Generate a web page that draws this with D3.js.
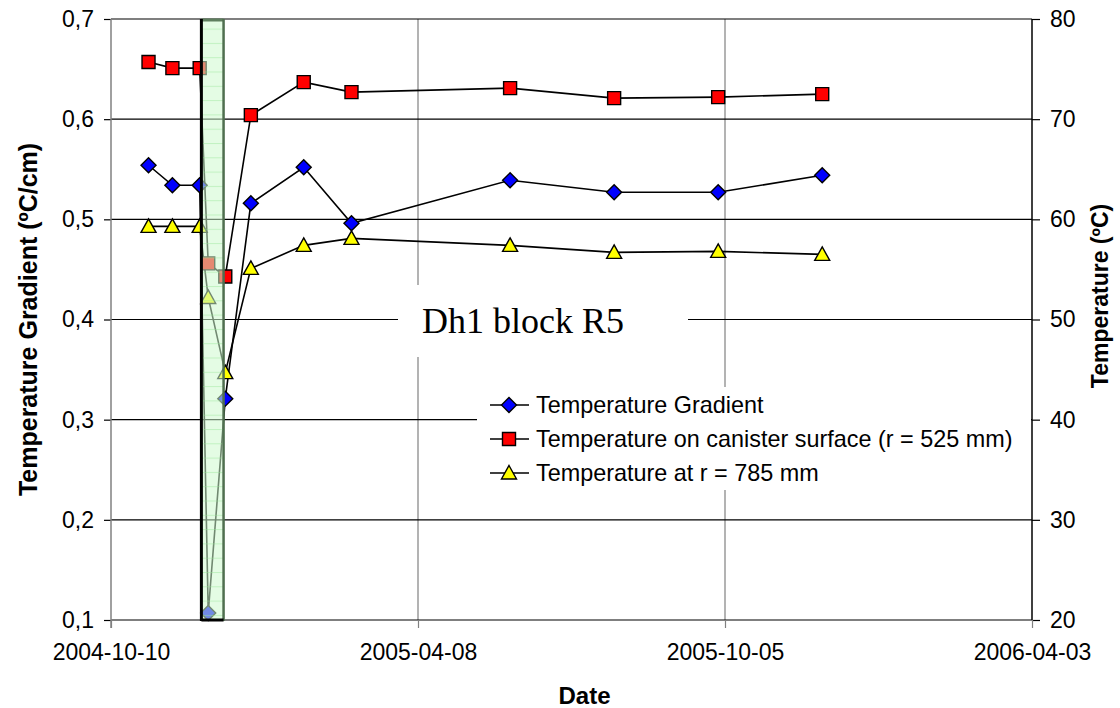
<!DOCTYPE html>
<html>
<head>
<meta charset="utf-8">
<script src="https://cdn.jsdelivr.net/npm/d3@7"></script>
<style>
  html, body { margin: 0; padding: 0; background: #fff; }
  svg { display: block; }
  text { font-family: "Liberation Sans", Arial, sans-serif; }
</style>
</head>
<body>
<svg id="chart" width="1120" height="708"></svg>
<script>
// ---------- data ----------
const dates = ["2004-11-01","2004-11-15","2004-12-01","2004-12-06","2004-12-16","2004-12-31",
               "2005-01-31","2005-02-28","2005-06-01","2005-08-01","2005-10-01","2005-12-01"];
const gradient = [0.554,0.534,0.534,0.107,0.321,0.516,0.552,0.496,0.539,0.527,0.527,0.544];
const canister = [75.7,75.1,75.1,55.6,54.3,70.4,73.7,72.7,73.1,72.1,72.2,72.5];
const r785 = [59.3,59.3,59.3,52.2,44.7,55.1,57.4,58.1,57.4,56.7,56.8,56.5];
const xTicks = ["2004-10-10","2005-04-08","2005-10-05","2006-04-03"];
const leftTicks = [0.1,0.2,0.3,0.4,0.5,0.6,0.7];
const rightTicks = [20,30,40,50,60,70,80];
const highlight = ["2004-12-02","2004-12-15"];
const seriesNames = ["Temperature Gradient","Temperature on canister surface (r = 525 mm)","Temperature at r = 785 mm"];
const annotation = "Dh1 block R5";

// ---------- layout ----------
const L = 111, R = 1032, T = 19, B = 620;
const svg = d3.select("#chart");
const parse = d3.utcParse("%Y-%m-%d");
const x = d3.scaleUtc().domain([parse(xTicks[0]), parse(xTicks[xTicks.length-1])]).range([L, R]);
const yL = d3.scaleLinear().domain([0.1, 0.7]).range([B, T]);
const yR = d3.scaleLinear().domain([20, 80]).range([B, T]);

// grid: vertical (gray)
svg.append("g").selectAll("line").data(xTicks.slice(1, -1)).join("line")
  .attr("x1", d => x(parse(d))).attr("x2", d => x(parse(d)))
  .attr("y1", T).attr("y2", B).attr("stroke", "#808080").attr("stroke-width", 1.2);
// grid: horizontal (black)
svg.append("g").selectAll("line").data(leftTicks).join("line")
  .attr("x1", L).attr("x2", R).attr("y1", d => yL(d)).attr("y2", d => yL(d))
  .attr("stroke", "#000").attr("stroke-width", 1.2);

// axes
const axL = svg.append("g").attr("transform", `translate(${L},0)`)
  .call(d3.axisLeft(yL).tickValues(leftTicks).tickSize(7).tickPadding(10)
        .tickFormat(d => d3.format(".1f")(d).replace(".", ",")));
const axR = svg.append("g").attr("transform", `translate(${R},0)`)
  .call(d3.axisRight(yR).tickValues(rightTicks).tickSize(8).tickPadding(10).tickFormat(d3.format("d")));
const axB = svg.append("g").attr("transform", `translate(0,${B})`)
  .call(d3.axisBottom(x).tickValues(xTicks.map(parse)).tickSize(8).tickPadding(16)
        .tickFormat(d3.utcFormat("%Y-%m-%d")));
[axL, axR, axB].forEach(a => {
  a.select(".domain").remove();
  a.selectAll("text").attr("font-size", 23).attr("fill", "#000")
    .style("font-family", '"Liberation Sans", Arial, sans-serif');
});
axL.selectAll("line").attr("stroke", "#000").attr("stroke-width", 1.2);
axR.selectAll("line").attr("stroke", "#000").attr("stroke-width", 1.2);
axB.selectAll("line").attr("stroke", "#808080").attr("stroke-width", 1.2);
// axis lines
svg.append("line").attr("x1", L).attr("x2", L).attr("y1", T).attr("y2", B + 8)
  .attr("stroke", "#808080").attr("stroke-width", 1.5);
svg.append("line").attr("x1", R).attr("x2", R).attr("y1", T).attr("y2", B)
  .attr("stroke", "#000").attr("stroke-width", 1.5);

// axis titles
svg.append("text").attr("transform", `translate(37,${(T + B) / 2}) rotate(-90)`)
  .attr("text-anchor", "middle").attr("font-size", 25).attr("font-weight", "bold")
  .text("Temperature Gradient (ºC/cm)");
svg.append("text").attr("transform", `translate(1108,296) rotate(-90)`)
  .attr("text-anchor", "middle").attr("font-size", 23).attr("font-weight", "bold")
  .text("Temperature (ºC)");
svg.append("text").attr("x", (L + R) / 2 + 13).attr("y", 704)
  .attr("text-anchor", "middle").attr("font-size", 24).attr("font-weight", "bold")
  .text("Date");

// ---------- series ----------
const series = [
  { name: seriesNames[0], vals: gradient, y: yL, shape: "diamond", fill: "#0000ff" },
  { name: seriesNames[1], vals: canister, y: yR, shape: "square", fill: "#ff0000" },
  { name: seriesNames[2], vals: r785, y: yR, shape: "triangle", fill: "#ffff00" }
];
function markerPath(shape) {
  if (shape === "diamond") return "M0,-7.5L7.5,0L0,7.5L-7.5,0Z";
  if (shape === "square") return "M-6.5,-6.5H6.5V6.5H-6.5Z";
  return "M0,-7.5L7.5,6L-7.5,6Z";
}
const dataG = svg.append("g");
series.forEach(s => {
  const pts = dates.map((d, i) => [x(parse(d)), s.y(s.vals[i])]);
  dataG.append("path").attr("d", d3.line()(pts)).attr("fill", "none")
    .attr("stroke", "#000").attr("stroke-width", 1.6);
});
series.forEach(s => {
  dataG.append("g").selectAll("path").data(dates).join("path")
    .attr("transform", (d, i) => `translate(${x(parse(d))},${s.y(s.vals[i])})`)
    .attr("d", markerPath(s.shape)).attr("fill", s.fill)
    .attr("stroke", "#000").attr("stroke-width", 1.4);
});

// ---------- highlight box ----------
const hx0 = x(parse(highlight[0])), hx1 = x(parse(highlight[1]));
const defs = svg.append("defs");
const pat = defs.append("pattern").attr("id", "hl").attr("patternUnits", "userSpaceOnUse")
  .attr("width", 10).attr("height", 14.3);
pat.append("rect").attr("width", 10).attr("height", 14.3).attr("fill", "rgba(205,250,205,0.55)");
pat.append("line").attr("x1", 0).attr("x2", 10).attr("y1", 0.5).attr("y2", 0.5)
  .attr("stroke", "rgba(150,230,150,0.45)").attr("stroke-width", 1);
svg.append("rect").attr("x", hx0).attr("y", T).attr("width", hx1 - hx0).attr("height", B - T)
  .attr("fill", "url(#hl)");
svg.append("line").attr("x1", hx0).attr("x2", hx1).attr("y1", T + 1).attr("y2", T + 1)
  .attr("stroke", "#5f7f5f").attr("stroke-width", 3);
svg.append("line").attr("x1", hx1).attr("x2", hx1).attr("y1", T).attr("y2", B + 1)
  .attr("stroke", "#4f6f4f").attr("stroke-width", 2.5);
svg.append("line").attr("x1", hx0).attr("x2", hx0).attr("y1", T).attr("y2", B + 1)
  .attr("stroke", "#000").attr("stroke-width", 3);
svg.append("line").attr("x1", hx0).attr("x2", hx1).attr("y1", B).attr("y2", B)
  .attr("stroke", "#000").attr("stroke-width", 3);

// ---------- annotation ----------
svg.append("rect").attr("x", 398).attr("y", 285).attr("width", 290).attr("height", 72).attr("fill", "#fff");
svg.append("text").attr("x", 523).attr("y", 333).attr("text-anchor", "middle")
  .style("font-family", '"Liberation Serif", "Times New Roman", serif')
  .attr("font-size", 36).text(annotation);

// ---------- legend ----------
svg.append("rect").attr("x", 477).attr("y", 387).attr("width", R - 477 - 1).attr("height", 103).attr("fill", "#fff");
const lg = svg.append("g");
series.forEach((s, i) => {
  const yy = 405 + i * 34;
  lg.append("line").attr("x1", 490).attr("x2", 529).attr("y1", yy).attr("y2", yy)
    .attr("stroke", "#000").attr("stroke-width", 1.6);
  lg.append("path").attr("transform", `translate(509,${yy})`).attr("d", markerPath(s.shape))
    .attr("fill", s.fill).attr("stroke", "#000").attr("stroke-width", 1.4);
  lg.append("text").attr("x", 536).attr("y", yy).attr("dy", "0.35em")
    .attr("font-size", 23.4).text(s.name);
});
</script>
</body>
</html>
